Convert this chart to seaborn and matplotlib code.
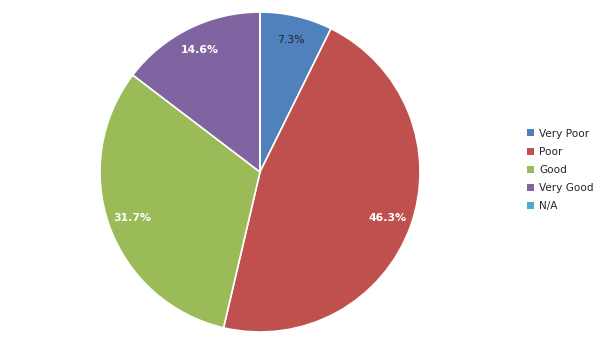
import matplotlib
matplotlib.use("Agg")
import matplotlib.pyplot as plt
import matplotlib.patches as mpatches
import seaborn as sns

categories = ["Very Poor", "Poor", "Good", "Very Good", "N/A"]
values = [3, 19, 13, 6, 0]
colors_hex = ["#4F81BD", "#C0504D", "#9BBB59", "#8064A2", "#4BACC6"]

sns.set_style("white")
plt.rcParams["font.family"] = ["DejaVu Sans"]
palette = sns.color_palette(colors_hex)

fig = plt.figure(figsize=(6.05, 3.40), dpi=100)
ax = fig.add_axes([100 / 605, 8 / 340, 320 / 605, 320 / 340])

def fmt(p):
    return f"{p:.1f}%" if p > 0 else ""

wedges, texts, autotexts = ax.pie(
    values, colors=palette, startangle=90, counterclock=False,
    autopct=fmt, pctdistance=0.85,
    wedgeprops=dict(edgecolor="white", linewidth=1.2),
    textprops=dict(fontsize=7.8),
)
for i, t in enumerate(autotexts):
    if i == 0:
        t.set_color("#222222")
        t.set_fontweight("normal")
    else:
        t.set_color("white")
        t.set_fontweight("bold")
ax.set_xlim(-1, 1)
ax.set_ylim(-1, 1)
ax.set_aspect("equal")
ax.axis("off")

handles = [mpatches.Patch(facecolor=palette[i], edgecolor="none") for i in range(len(categories))]
fig.legend(handles, categories, loc="center left", bbox_to_anchor=(523 / 605, 0.5),
           frameon=False, fontsize=7.6, handlelength=0.65, handleheight=0.65,
           handletextpad=0.5, labelspacing=0.78, borderaxespad=0)

fig.savefig("out.png", dpi=100)
